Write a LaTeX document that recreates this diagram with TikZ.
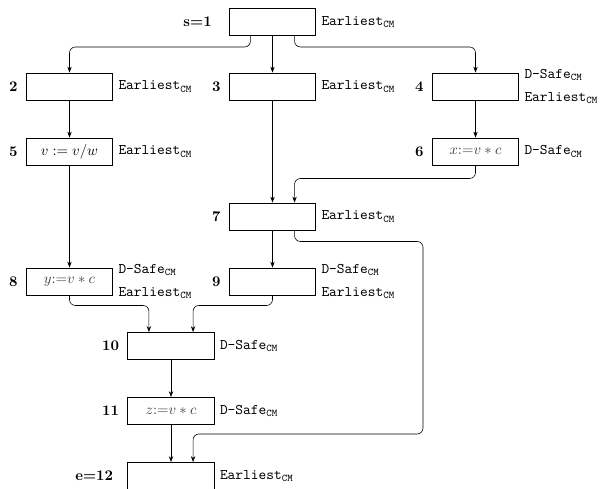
\documentclass[tikz,border=0pt]{standalone}
\usepackage{tikz}
\usetikzlibrary{arrows.meta, positioning, calc}
\usepackage{amsmath, amssymb}

\newcommand{\earliest}{\texttt{Earliest}$_{\mathtt{CM}}$}
\newcommand{\dsafe}{\texttt{D-Safe}$_{\mathtt{CM}}$}

\tikzset{
  blk/.style={draw, line width=0.6pt, minimum width=59pt, minimum height=18.4pt, inner sep=1pt},
  numl/.style={font=\bfseries, label distance=2pt},
  annl/.style={align=left},
  hot/.style={text=black!75},
  edge/.style={-{Stealth[length=4pt, width=3pt]}, line width=0.4pt, rounded corners=4pt}
}

\begin{document}
\begin{tikzpicture}[x=0.68pt, y=-0.68pt]
  \useasboundingbox (0,0) rectangle (609,488);

  % blocks
  \node[blk, label={[numl, label distance=8pt]left:s=1}, label={[annl]right:\earliest}] (n1) at (272.5,22) {};
  \node[blk, label={[numl]left:2}, label={[annl]right:\earliest}] (n2) at (69.5,86.5) {};
  \node[blk, label={[numl]left:3}, label={[annl]right:\earliest}] (n3) at (272.5,86.5) {};
  \node[blk, label={[numl]left:4}, label={[annl]right:\dsafe\\[4pt]\earliest}] (n4) at (475.5,86.5) {};
  \node[blk, label={[numl]left:5}, label={[annl]right:\earliest}] (n5) at (69.5,151.5) {$v := v/w$};
  \node[blk, hot, label={[numl]left:6}, label={[annl]right:\dsafe}] (n6) at (475.5,151.5) {$x{:=}v*c$};
  \node[blk, label={[numl]left:7}, label={[annl]right:\earliest}] (n7) at (272.5,216.5) {};
  \node[blk, hot, label={[numl]left:8}, label={[annl]right:\dsafe\\[4pt]\earliest}] (n8) at (69.5,281.5) {$y{:=}v*c$};
  \node[blk, label={[numl]left:9}, label={[annl]right:\dsafe\\[4pt]\earliest}] (n9) at (272.5,281.5) {};
  \node[blk, label={[numl]left:10}, label={[annl]right:\dsafe}] (n10) at (171,346) {};
  \node[blk, hot, label={[numl]left:11}, label={[annl]right:\dsafe}] (n11) at (171,411) {$z{:=}v*c$};
  \node[blk, label={[numl, label distance=6pt]left:e=12}, label={[annl]right:\earliest}] (n12) at (171,476) {};

  \coordinate (detour) at (423,434);

  % flow edges
  \draw[edge] ([xshift=-15pt]n1.south) -- ++(0,11) -| (n2.north);
  \draw[edge] (n1.south) -- (n3.north);
  \draw[edge] ([xshift=15pt]n1.south) -- ++(0,11) -| (n4.north);
  \draw[edge] (n2.south) -- (n5.north);
  \draw[edge] (n4.south) -- (n6.north);
  \draw[edge] (n3.south) -- (n7.north);
  \draw[edge] (n6.south) -- ++(0,13) -| ([xshift=15pt]n7.north);
  \draw[edge] (n5.south) -- (n8.north);
  \draw[edge] (n7.south) -- (n9.north);
  \draw[edge] ([xshift=15pt]n7.south) -- ++(0,11) -| (detour) -| ([xshift=15pt]n12.north);
  \draw[edge] (n8.south) -- ++(0,10) -| ([xshift=-15pt]n10.north);
  \draw[edge] (n9.south) -- ++(0,10) -| ([xshift=15pt]n10.north);
  \draw[edge] (n10.south) -- (n11.north);
  \draw[edge] (n11.south) -- (n12.north);
\end{tikzpicture}
\end{document}
